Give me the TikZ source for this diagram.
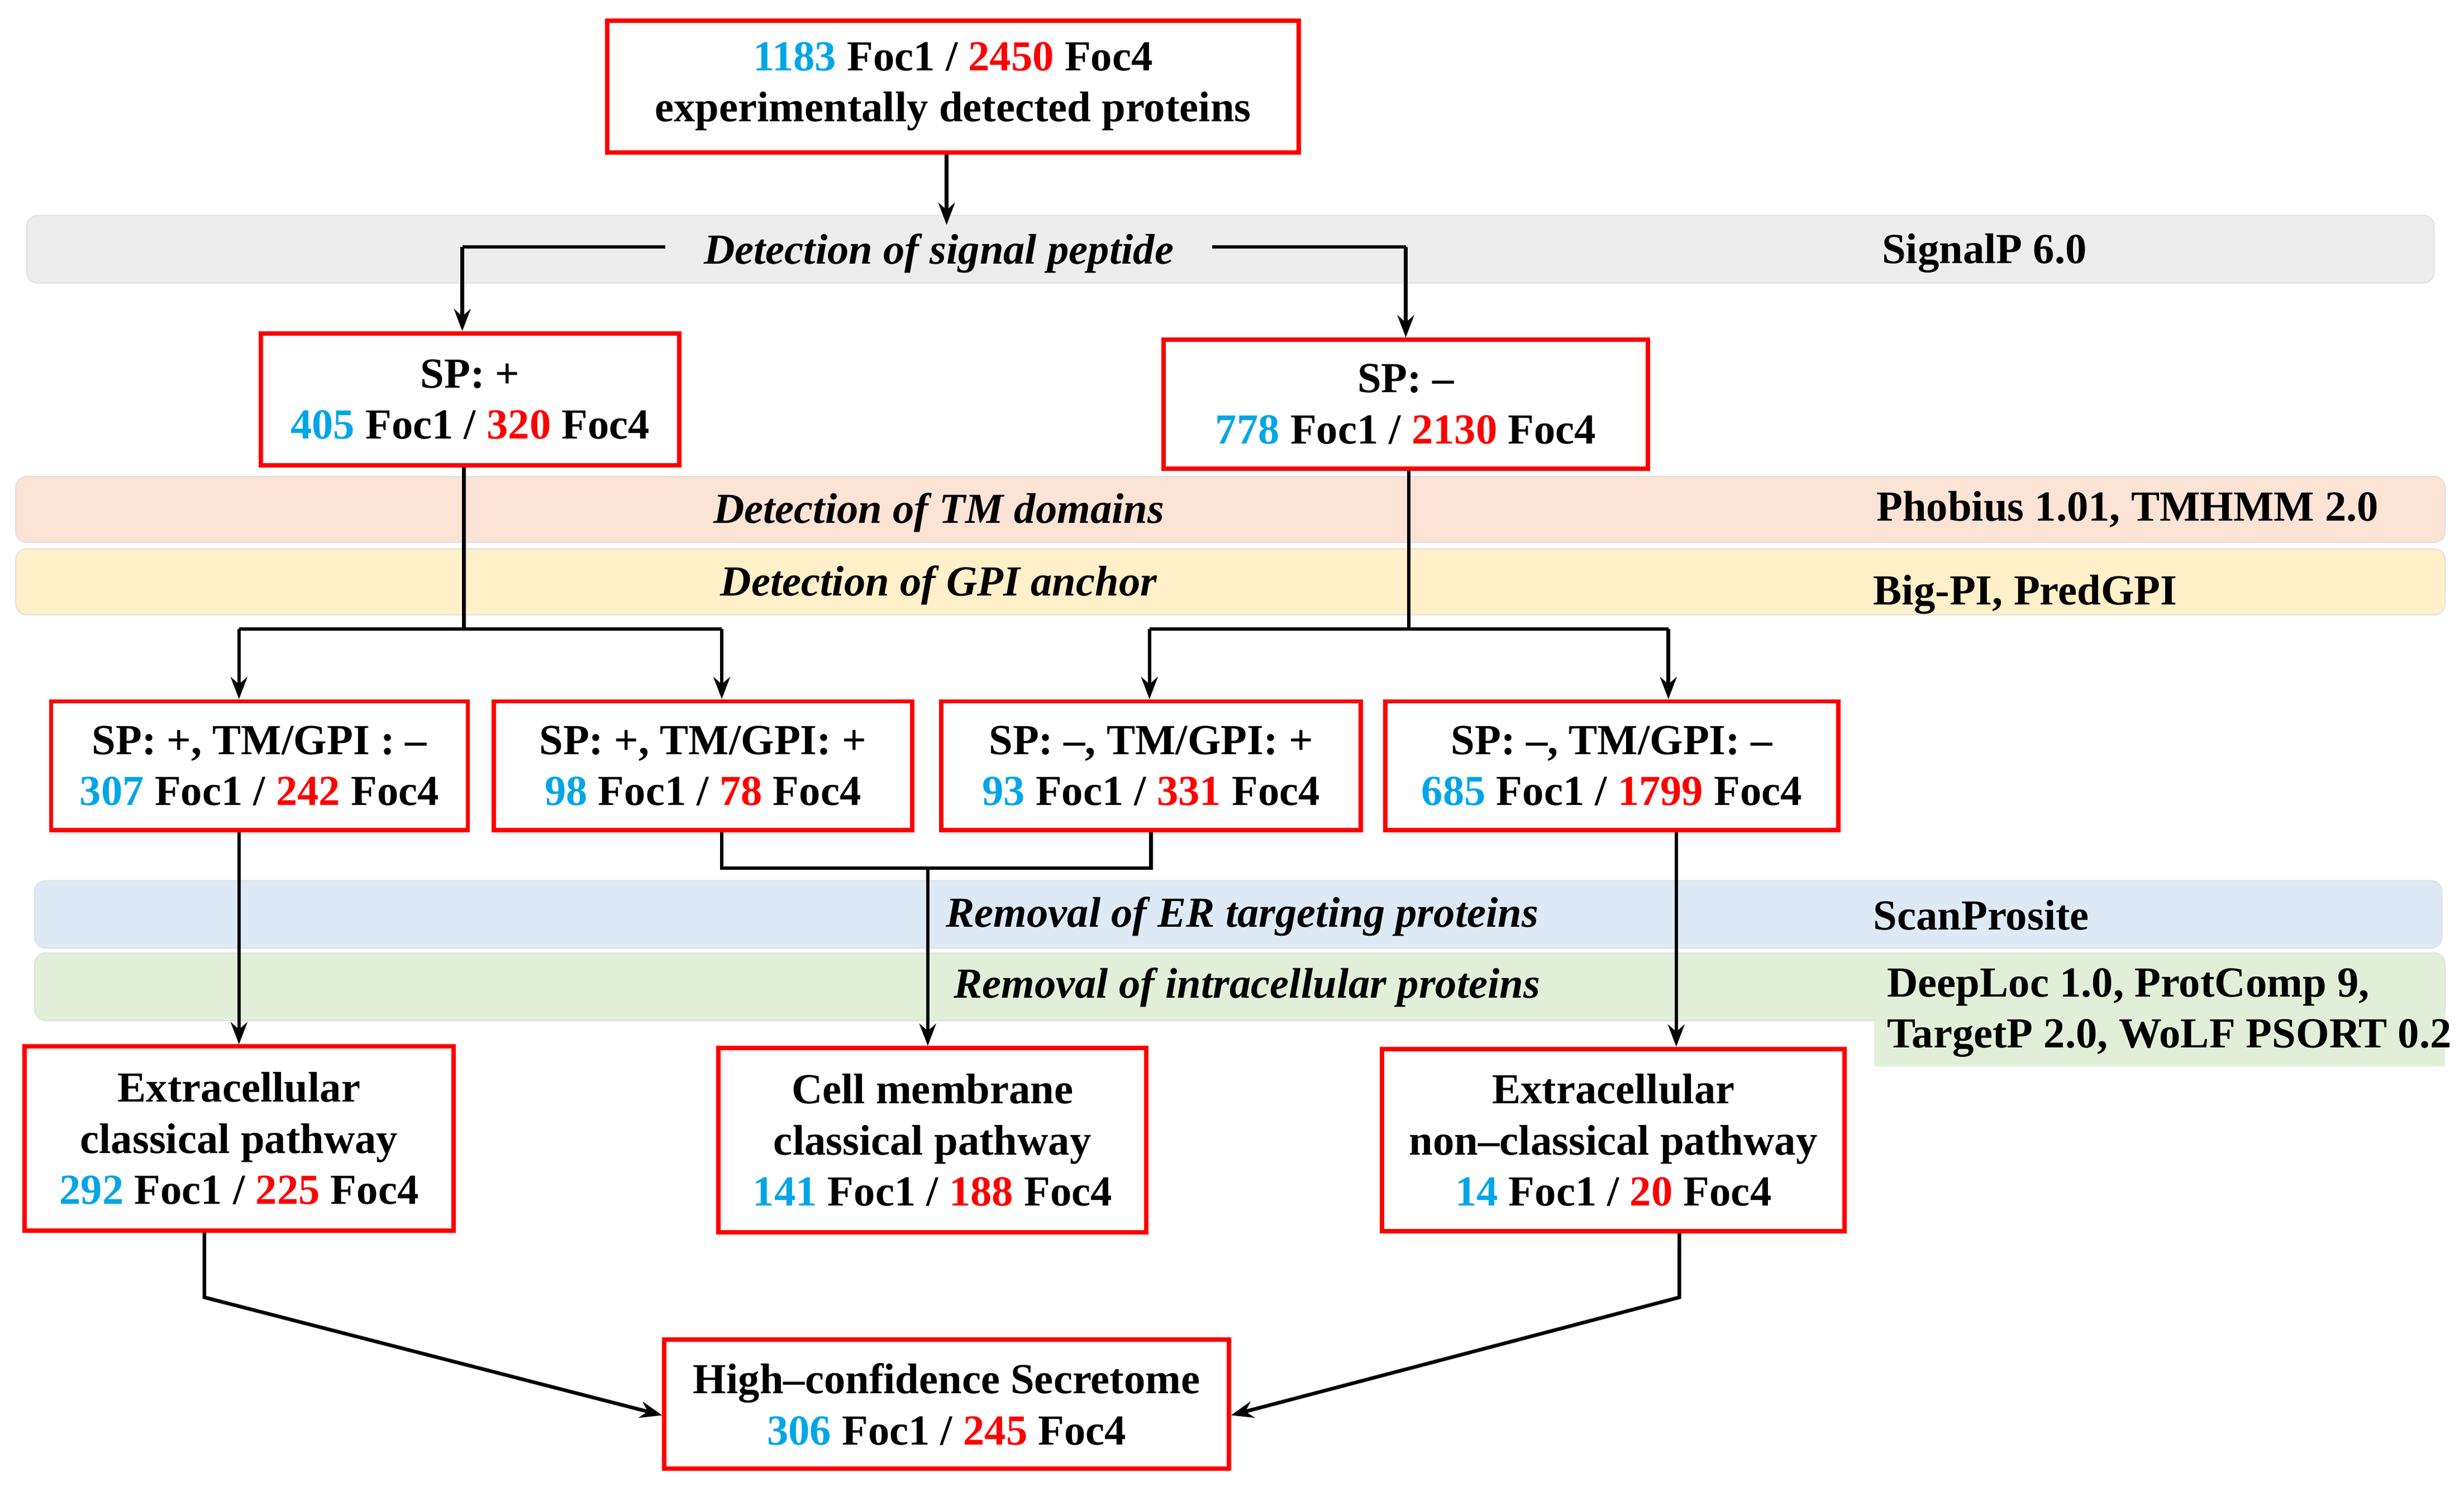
\documentclass[tikz,border=0pt]{standalone}
\usepackage{fontspec}
\setmainfont{Liberation Serif}[BoldFont={Liberation Serif Bold},ItalicFont={Liberation Serif Italic},BoldItalicFont={Liberation Serif Bold Italic}]
\usetikzlibrary{arrows.meta}
\definecolor{cb}{HTML}{00A6E6}
\definecolor{cr}{HTML}{FF0000}
\definecolor{bgray}{HTML}{EDEDED}
\definecolor{borange}{HTML}{FBE3D5}
\definecolor{byellow}{HTML}{FFF0CA}
\definecolor{bblue}{HTML}{DDEAF6}
\definecolor{bgreen}{HTML}{E1EFD8}
\newcommand{\B}[1]{\textcolor{cb}{#1}}
\newcommand{\R}[1]{\textcolor{cr}{#1}}
\begin{document}
\begin{tikzpicture}[x=0.02cm,y=-0.02cm,
  font=\fontsize{15.5}{18.5}\selectfont\bfseries,
  box/.style={draw=cr,line width=1.6pt,fill=white,align=center,inner sep=0pt},
  band/.style={rounded corners=4pt,draw=black!12,line width=0.4pt},
  bl/.style={font=\fontsize{15.5}{18.5}\selectfont\itshape\bfseries},
  tl/.style={font=\fontsize{15.5}{18.5}\selectfont\bfseries,align=left},
  ln/.style={line width=1.3pt},
  ar/.style={ln,-{Stealth[length=8pt,width=6pt]}}]
\useasboundingbox (0,0) rectangle (1567,951);
% bands
\path[band,fill=bgray] (17,137) rectangle (1548,180);
\path[band,fill=borange] (10,303) rectangle (1555,345);
\path[band,fill=byellow] (10,349) rectangle (1555,391);
\path[band,fill=bblue] (22,560) rectangle (1553,603);
\path[band,fill=bgreen] (22,606) rectangle (1555,649);
\path[fill=bgreen] (1192,640) rectangle (1555,678);
\node[tl] (sigp) at (1262,161) {SignalP 6.0};
\node[tl] (phob) at (1353,324) {Phobius 1.01, TMHMM 2.0};
\node[tl] (bigpi) at (1288,378) {Big-PI, PredGPI};
\node[tl] (scan) at (1260,582) {ScanProsite};
\node[tl,anchor=west] (deep) at (1194,644) {DeepLoc 1.0, ProtComp 9,\\TargetP 2.0, WoLF PSORT 0.2};
% boxes
\node[box,minimum width=440*0.02cm,minimum height=84*0.02cm] (top) at (606,55) {\B{1183} Foc1 / \R{2450} Foc4\\experimentally detected proteins};
\node[box,minimum width=266*0.02cm,minimum height=84*0.02cm] (spp) at (299,254) {SP: +\\\B{405} Foc1 / \R{320} Foc4};
\node[box,minimum width=308*0.02cm,minimum height=82*0.02cm] (spm) at (894,257) {SP: --\\\B{778} Foc1 / \R{2130} Foc4};
\node[box,minimum width=265*0.02cm,minimum height=82*0.02cm] (a) at (165,487) {SP: +, TM/GPI : --\\\B{307} Foc1 / \R{242} Foc4};
\node[box,minimum width=266*0.02cm,minimum height=82*0.02cm] (b) at (447,487) {SP: +, TM/GPI: +\\\B{98} Foc1 / \R{78} Foc4};
\node[box,minimum width=267*0.02cm,minimum height=82*0.02cm] (c) at (732,487) {SP: --, TM/GPI: +\\\B{93} Foc1 / \R{331} Foc4};
\node[box,minimum width=288*0.02cm,minimum height=82*0.02cm] (d) at (1025,487) {SP: --, TM/GPI: --\\\B{685} Foc1 / \R{1799} Foc4};
\node[box,minimum width=273*0.02cm,minimum height=117*0.02cm] (e) at (152,724) {Extracellular\\classical pathway\\\B{292} Foc1 / \R{225} Foc4};
\node[box,minimum width=272*0.02cm,minimum height=117*0.02cm] (f) at (593,725) {Cell membrane\\classical pathway\\\B{141} Foc1 / \R{188} Foc4};
\node[box,minimum width=294*0.02cm,minimum height=116*0.02cm] (g) at (1026,725) {Extracellular\\non--classical pathway\\\B{14} Foc1 / \R{20} Foc4};
\node[box,minimum width=359*0.02cm,minimum height=82*0.02cm] (h) at (602,893) {High--confidence Secretome\\\B{306} Foc1 / \R{245} Foc4};
% connectors
\coordinate (j0) at (602,143);
\draw[ar] (top.south -| j0) -- (j0);
\coordinate (s1) at (294,157); \coordinate (s2) at (896,157);
\draw[ar] (s1 -| spp.center) ++(-5,0) coordinate (s1b) -- (s1b |- spp.north);
\draw[ln] (s1b) -- (s2 -| spm.center);
\draw[ar] (s2 -| spm.center) -- (spm.north);
\node[bl,fill=bgray,inner xsep=14pt,inner ysep=2pt] (t1) at (597,161) {Detection of signal peptide};
% SP+ split
\coordinate (p1) at (295,400);
\draw[ln] (spp.south -| p1) -- (p1);
\coordinate (pa) at (152,400); \coordinate (pb) at (459,400);
\draw[ln] (pa) -- (pb);
\draw[ar] (pa) -- (pa |- a.north);
\draw[ar] (pb) -- (pb |- b.north);
\coordinate (m1) at (896,400);
\draw[ln] (spm.south -| m1) -- (m1);
\coordinate (mc) at (731,400); \coordinate (md) at (1061,400);
\draw[ln] (mc) -- (md);
\draw[ar] (mc) -- (mc |- c.north);
\draw[ar] (md) -- (md |- d.north);
% row3 to row4
\draw[ar] (a.south -| pa) -- (pa |- e.north);
\coordinate (q1) at (459,552); \coordinate (q2) at (732,552); \coordinate (q3) at (590,552);
\draw[ln] (b.south -| q1) -- (q1) -- (q2) -- (c.south -| q2);
\draw[ar] (q3) -- (q3 |- f.north);
\coordinate (r1) at (1066,552);
\draw[ar] (d.south -| r1) -- (r1 |- g.north);
% band labels drawn over lines
\node[bl] (t2) at (597,326) {Detection of TM domains};
\node[bl] (t3) at (597,372) {Detection of GPI anchor};
\node[bl] (t4) at (790,583) {Removal of ER targeting proteins};
\node[bl] (t5) at (793,628) {Removal of intracellular proteins};
% to bottom
\coordinate (u1) at (130,825); \coordinate (u2) at (1068,825);
\draw[ar] (e.south -| u1) -- (u1) -- (h.west |- 0,900);
\draw[ar] (g.south -| u2) -- (u2) -- (h.east |- 0,900);
\end{tikzpicture}
\end{document}
